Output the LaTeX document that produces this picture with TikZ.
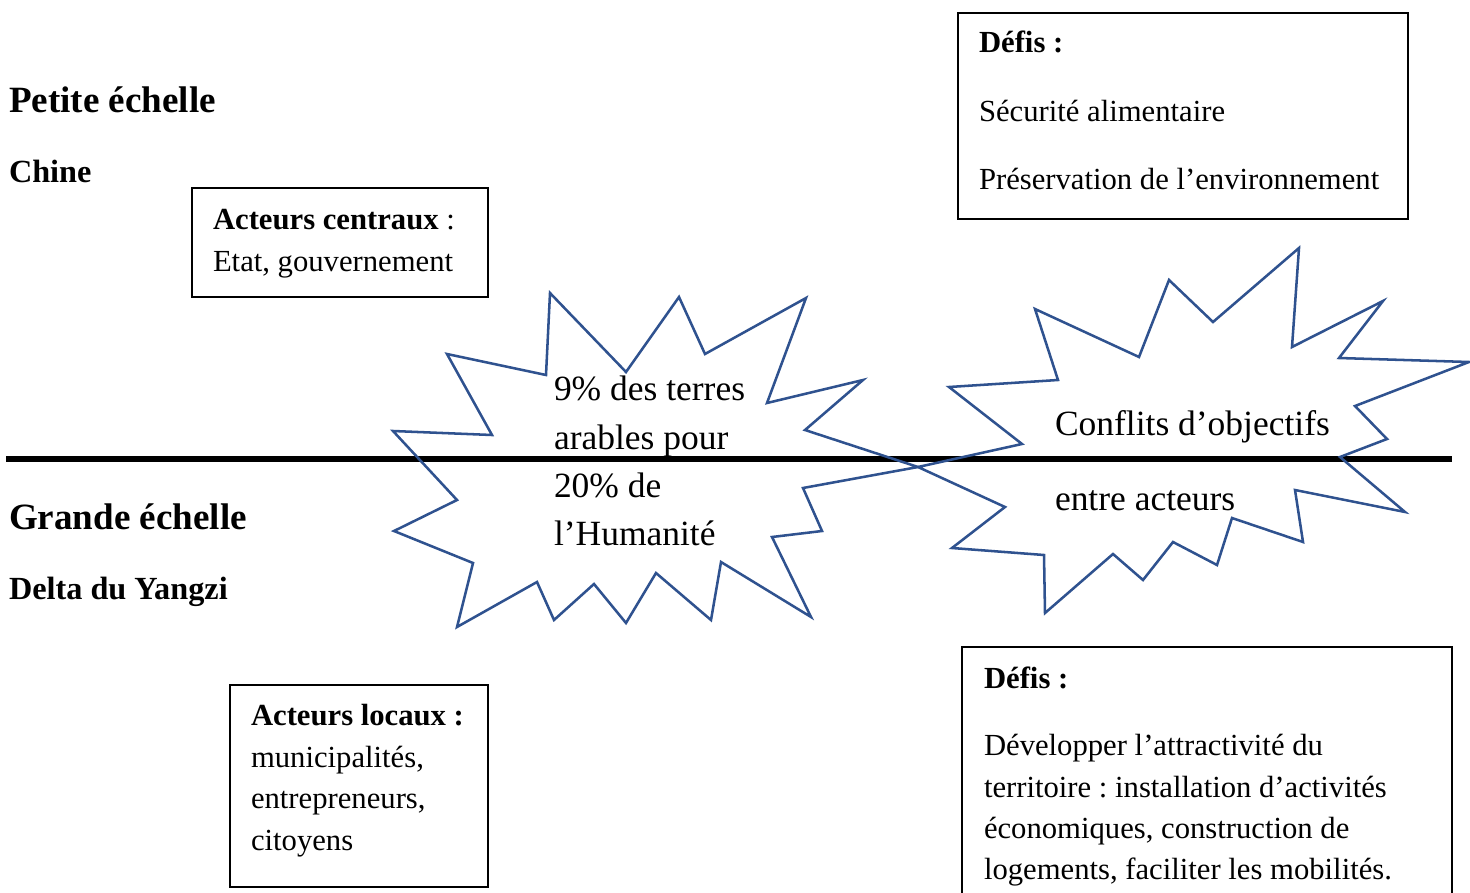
\documentclass[tikz,border=0pt]{standalone}
\usepackage{fontspec}
\setmainfont{Liberation Serif}
\definecolor{starblue}{RGB}{47,82,143}
\frenchspacing
\begin{document}
\begin{tikzpicture}[x=0.75pt,y=-0.75pt,
  txt/.style={anchor=base west, inner sep=0pt, outer sep=0pt},
  body/.style={txt, font=\fontsize{23}{28}\selectfont},
  bodyb/.style={txt, font=\fontsize{23}{28}\selectfont\bfseries},
  startxt/.style={txt, font=\fontsize{26.6}{32}\selectfont},
  head/.style={txt, font=\fontsize{27.8}{34}\selectfont\bfseries},
  sub/.style={txt, font=\fontsize{24.2}{28}\selectfont\bfseries},
  box/.style={draw=black, line width=1.5pt, fill=none, inner sep=0pt, rectangle},
  starline/.style={draw=starblue, line width=1.9pt, line join=miter}]
\useasboundingbox (0,0) rectangle (1470,892);

% dividing line
\coordinate (L) at (6,459);
\coordinate (R) at (1452,459);
\draw[line width=4.6pt] (L) -- (R);

% boxes
\node[box, minimum width=222pt, minimum height=81.75pt] (bc) at (340,242.5) {};
\node[box, minimum width=337.5pt, minimum height=154.5pt] (dt) at (1183,116) {};
\node[box, minimum width=193.5pt, minimum height=151.5pt] (bl) at (359,786) {};
\node[box, minimum width=367.5pt, minimum height=193.5pt] (db) at (1207,776) {};

% star 1
\draw[starline] (550,293) -- (626,372) -- (679,297) -- (705,354) -- (806,298)
  -- (767,403) -- (863,380) -- (805,430) -- (918,467) -- (803,488) -- (822,531)
  -- (772,537) -- (811,617) -- (721,562) -- (711,620) -- (656,573) -- (626,623)
  -- (594,584) -- (554,620) -- (537,582) -- (457,627) -- (473,563) -- (394,531)
  -- (457,500) -- (393,431) -- (492,435) -- (447,354) -- (546,375) -- cycle;

% star 2
\draw[starline] (1299,248) -- (1292,347) -- (1383,301) -- (1339,358) -- (1469,362)
  -- (1355,406) -- (1387,439) -- (1340,457) -- (1405,512) -- (1295,490) -- (1303,542)
  -- (1232,518) -- (1217,565) -- (1173,542) -- (1143,580) -- (1113,554) -- (1045,613)
  -- (1044,555) -- (952,548) -- (1005,507) -- (918,467) -- (1022,444) -- (949,387)
  -- (1058,380) -- (1035,309) -- (1139,357) -- (1169,280) -- (1213,322) -- cycle;

\begin{scope}[shift={(0,2)}]
% left titles
\node[head] (pe) at (9,111) {Petite échelle};
\node[sub] (ch) at (9,180) {Chine};
\node[head] (ge) at (9,527) {Grande échelle};
\node[sub] (dy) at (9,597) {Delta du Yangzi};

% acteurs centraux
\node[body] (ac1) at (213,227) {\textbf{Acteurs centraux} :};
\node[body] (ac2) at (213,269) {Etat, gouvernement};

% defis top
\node[bodyb] (dt1) at (979,51) {Défis :};
\node[body] (dt2) at (979,119) {Sécurité alimentaire};
\node[body] (dt3) at (979,187) {Préservation de l’environnement};

% star 1 text
\node[startxt] (s1a) at (554,398) {9\% des terres};
\node[startxt] (s1b) at (554,447) {arables pour};
\node[startxt] (s1c) at (554,495) {20\% de};
\node[startxt] (s1d) at (554,543) {l’Humanité};

% star 2 text
\node[startxt] (s2a) at (1055,433) {Conflits d’objectifs};
\node[startxt] (s2b) at (1055,508) {entre acteurs};

% acteurs locaux
\node[bodyb] (al1) at (251,723) {Acteurs locaux :};
\node[body] (al2) at (251,765) {municipalités,};
\node[body] (al3) at (251,806) {entrepreneurs,};
\node[body] (al4) at (251,848) {citoyens};

% defis bottom
\node[bodyb] (db1) at (984,686) {Défis :};
\node[body] (db2) at (984,753) {Développer l’attractivité du};
\node[body] (db3) at (984,795) {territoire : installation d’activités};
\node[body] (db4) at (984,836) {économiques, construction de};
\node[body] (db5) at (984,877) {logements, faciliter les mobilités.};
\end{scope}
\end{tikzpicture}
\end{document}
